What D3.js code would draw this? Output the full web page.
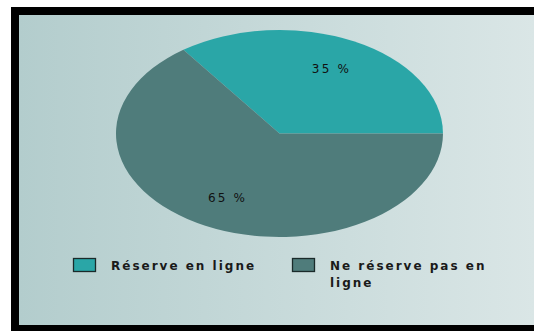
<!DOCTYPE html>
<html>
<head>
<meta charset="utf-8">
<script src="https://cdn.jsdelivr.net/npm/d3@7"></script>
<style>
  html, body { margin: 0; padding: 0; background: #dae6e6; overflow: hidden; }
  svg { display: block; }
</style>
</head>
<body>
<svg id="chart" width="534" height="331"></svg>
<script>
// Share of respondents booking online
const categories = ["Réserve en ligne", "Ne réserve pas en ligne"];
const values = [35, 65];
const colors = ["#2aa6a7", "#4f7c7b"];

const W = 534, H = 331;
const svg = d3.select("#chart");

// Page background, frame and panel
svg.append("rect").attr("width", W).attr("height", H).attr("fill", "#fff");

const defs = svg.append("defs");
const grad = defs.append("linearGradient").attr("id", "bg")
  .attr("gradientUnits", "userSpaceOnUse")
  .attr("x1", 19).attr("x2", W).attr("y1", 0).attr("y2", 0);
grad.append("stop").attr("offset", "0%").attr("stop-color", "#b3cdcd");
grad.append("stop").attr("offset", "100%").attr("stop-color", "#dae6e6");

svg.append("rect").attr("x", 11).attr("y", 7).attr("width", W + 20).attr("height", 324).attr("fill", "#000");
svg.append("rect").attr("x", 19).attr("y", 15).attr("width", W + 20).attr("height", 310).attr("fill", "url(#bg)");

// Elliptical pie
const cx = 279.5, cy = 133.5, rx = 163.5, ry = 103.5;
const pie = d3.pie().sort(null).value(d => d)
  .startAngle(Math.PI / 2).endAngle(Math.PI / 2 - 2 * Math.PI);
const arcs = pie(values);
const arc = d3.arc().innerRadius(0).outerRadius(rx);
const labelArc = d3.arc().innerRadius(rx * 0.7).outerRadius(rx * 0.7);

const g = svg.append("g").attr("transform", `translate(${cx},${cy}) scale(1,${ry / rx})`);
g.selectAll("path").data(arcs).join("path")
  .attr("d", arc)
  .attr("fill", (d, i) => colors[i]);

svg.append("g").selectAll("text").data(arcs).join("text")
  .attr("x", d => cx + labelArc.centroid(d)[0])
  .attr("y", d => cy + labelArc.centroid(d)[1] * ry / rx)
  .attr("text-anchor", "middle")
  .attr("dominant-baseline", "central")
  .attr("font-family", "DejaVu Sans, Verdana, sans-serif")
  .attr("font-size", 12)
  .attr("letter-spacing", "2.2px")
  .attr("fill", "#111")
  .text(d => `${d.data} %`);

// Legend
const legendX = [73, 292];
const legend = svg.append("g");
const wrapWidth = 185;
categories.forEach((name, i) => {
  const item = legend.append("g").attr("transform", `translate(${legendX[i]},258)`);
  item.append("rect").attr("x", 0.5).attr("y", 0.5).attr("width", 22).attr("height", 13)
    .attr("fill", colors[i]).attr("stroke", "#1a2a2a").attr("stroke-width", 1.3);
  const text = item.append("text")
    .attr("x", 38).attr("y", 12)
    .attr("font-family", "DejaVu Sans, Verdana, sans-serif")
    .attr("font-size", 12)
    .attr("font-weight", "bold")
    .attr("letter-spacing", "2px")
    .attr("fill", "#1a1a1a");
  // simple word wrap
  const words = name.split(" ");
  let line = [];
  let tspan = text.append("tspan").attr("x", 38).attr("dy", 0);
  words.forEach(w => {
    line.push(w);
    tspan.text(line.join(" "));
    if (tspan.node().getComputedTextLength() > wrapWidth && line.length > 1) {
      line.pop();
      tspan.text(line.join(" "));
      line = [w];
      tspan = text.append("tspan").attr("x", 38).attr("dy", 16.5).text(w);
    }
  });
});
</script>
</body>
</html>
